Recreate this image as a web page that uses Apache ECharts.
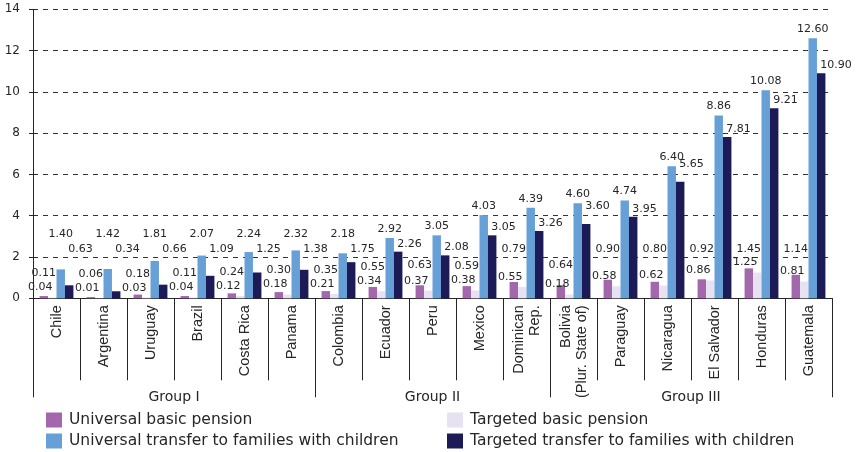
<!DOCTYPE html>
<html>
<head>
<meta charset="utf-8">
<script src="https://cdn.jsdelivr.net/npm/echarts@6/dist/echarts.min.js"></script>
<style>
  html, body { margin: 0; padding: 0; background: #fff; }
  #chart { width: 857px; height: 452px; }
</style>
</head>
<body>
<div id="chart"></div>
<script>
// Countries, in plotting order
const categories = [
  'Chile', 'Argentina', 'Uruguay', 'Brazil', 'Costa Rica', 'Panama',
  'Colombia', 'Ecuador', 'Peru', 'Mexico', 'Dominican\nRep.',
  'Bolivia\n(Plur. State of)', 'Paraguay', 'Nicaragua', 'El Salvador', 'Honduras', 'Guatemala'
];

// Country groups (names and number of countries in each)
const groupNames = ['Group I', 'Group II', 'Group III'];
const groupSizes = [6, 5, 6];

// Cost of each programme
const universalPension  = [0.11, 0.06, 0.18, 0.11, 0.24, 0.30, 0.35, 0.55, 0.63, 0.59, 0.79, 0.64, 0.90, 0.80, 0.92, 1.45, 1.14];
const targetedPension   = [0.04, 0.01, 0.03, 0.04, 0.12, 0.18, 0.21, 0.34, 0.37, 0.38, 0.55, 0.18, 0.58, 0.62, 0.86, 1.25, 0.81];
const universalTransfer = [1.40, 1.42, 1.81, 2.07, 2.24, 2.32, 2.18, 2.92, 3.05, 4.03, 4.39, 4.60, 4.74, 6.40, 8.86, 10.08, 12.60];
const targetedTransfer  = [0.63, 0.34, 0.66, 1.09, 1.25, 1.38, 1.75, 2.26, 2.08, 3.05, 3.26, 3.60, 3.95, 5.65, 7.81, 9.21, 10.90];

// Y axis
const yMin = 0, yMax = 14, yStep = 2;

// Layout
const W = 857, H = 452;
const grid = { left: 33, right: 25, top: 9.3, bottom: 153.7 };
const plotH = H - grid.top - grid.bottom;
const ppu = plotH / (yMax - yMin);
const yPx = v => grid.top + plotH - (v - yMin) * ppu;

// Rows that short labels are lifted to
const transferLabelFloor = 3.12;
const targetedLabelFloor = 2.39;

// Group separators and label centres on a 0..N value scale
const boundaries = [0];
groupSizes.forEach(n => boundaries.push(boundaries[boundaries.length - 1] + n));
const centres = groupSizes.map((n, i) => boundaries[i] + n / 2);

const INK = '#262626';
const SANS = 'DejaVu Sans';
const ARIAL = 'Liberation Sans';
const fmt = p => p.value.toFixed(2);
const labelStyle = { show: true, formatter: fmt, color: INK, fontFamily: SANS, fontSize: 11 };

const cx = p => p.rect.x + p.rect.width / 2;

// Keep a label from sitting right on a dashed gridline: lift it clear
function clearOfGrid(y) {
  for (let v = yMin; v <= yMax; v += yStep) {
    const g = yPx(v);
    if (Math.abs(y - g) < 3.5) return g - 10;
  }
  return y;
}

const chart = echarts.init(document.getElementById('chart'), null, { renderer: 'canvas' });

chart.setOption({
  animation: false,
  backgroundColor: '#fff',
  grid: grid,
  legend: [
    {
      data: ['Universal basic pension', 'Universal transfer to families with children'],
      orient: 'vertical', left: 46, top: 412, padding: 0,
      itemWidth: 16, itemHeight: 15, itemGap: 5, icon: 'rect',
      textStyle: { fontFamily: SANS, fontSize: 15.5, color: INK, padding: [0, 0, 0, 2] }
    },
    {
      data: ['Targeted basic pension', 'Targeted transfer to families with children'],
      orient: 'vertical', left: 447, top: 412, padding: 0,
      itemWidth: 16, itemHeight: 15, itemGap: 5, icon: 'rect',
      textStyle: { fontFamily: SANS, fontSize: 15.5, color: INK, padding: [0, 0, 0, 2] }
    }
  ],
  xAxis: [
    {
      type: 'category',
      data: categories,
      boundaryGap: true,
      axisLine: { show: true, lineStyle: { color: INK, width: 1 } },
      axisTick: { show: true, interval: 0, length: 82, lineStyle: { color: INK, width: 1 } },
      axisLabel: {
        interval: 0, rotate: 90, margin: 7, color: INK,
        fontFamily: ARIAL, fontSize: 14.5, lineHeight: 16
      },
      splitLine: { show: false }
    },
    {
      type: 'value',
      min: 0, max: categories.length,
      position: 'bottom',
      axisLine: { show: false },
      splitLine: { show: false },
      axisTick: { show: true, customValues: boundaries, length: 99, lineStyle: { color: INK, width: 1 } },
      axisLabel: {
        customValues: centres, margin: 92, color: INK, fontFamily: SANS, fontSize: 14,
        formatter: v => groupNames[centres.indexOf(v)] || ''
      }
    }
  ],
  yAxis: [
    {
      type: 'value', min: yMin, max: yMax, interval: yStep,
      axisLine: { show: true, lineStyle: { color: INK, width: 1 } },
      axisTick: { show: true, length: 4, lineStyle: { color: INK } },
      axisLabel: { margin: 13, color: INK, fontFamily: SANS, fontSize: 12 },
      splitLine: { show: true, lineStyle: { color: '#333', width: 1, type: [5, 5] } }
    },
    {
      type: 'value', min: yMin, max: yMax, interval: yStep, position: 'left',
      axisLine: { show: false },
      axisTick: { show: true, inside: true, length: 3, lineStyle: { color: INK } },
      axisLabel: { show: false },
      splitLine: { show: false }
    }
  ],
  series: [
    {
      name: 'Universal basic pension', type: 'bar', data: universalPension,
      itemStyle: { color: '#A368AC' }, barGap: '0%', barCategoryGap: '28%',
      label: labelStyle,
      labelLayout: p => {
        const i = p.dataIndex;
        let y = Math.min(yPx(universalPension[i]) - 20, yPx(targetedPension[i]) - 24);
        const row = yPx(targetedLabelFloor);
        if (y < row + 15) y = row;
        return { x: cx(p), y: y, align: 'center', verticalAlign: 'middle' };
      }
    },
    {
      name: 'Targeted basic pension', type: 'bar', data: targetedPension,
      itemStyle: { color: '#E7E2F1' }, barGap: '0%', barCategoryGap: '28%',
      label: labelStyle,
      labelLayout: p => ({
        x: cx(p) - 12, y: yPx(targetedPension[p.dataIndex]) - 10,
        align: 'center', verticalAlign: 'middle'
      })
    },
    {
      name: 'Universal transfer to families with children', type: 'bar', data: universalTransfer,
      itemStyle: { color: '#679FD7' }, barGap: '0%', barCategoryGap: '28%',
      label: labelStyle,
      labelLayout: p => ({
        x: cx(p),
        y: Math.min(yPx(universalTransfer[p.dataIndex]) - 9, yPx(transferLabelFloor)),
        align: 'center', verticalAlign: 'middle'
      })
    },
    {
      name: 'Targeted transfer to families with children', type: 'bar', data: targetedTransfer,
      itemStyle: { color: '#1D1B57' }, barGap: '0%', barCategoryGap: '28%',
      label: labelStyle,
      labelLayout: p => ({
        x: cx(p) - 1,
        y: clearOfGrid(Math.min(yPx(targetedTransfer[p.dataIndex]) - 8, yPx(targetedLabelFloor))),
        align: 'left', verticalAlign: 'middle'
      })
    }
  ]
});
</script>
</body>
</html>
